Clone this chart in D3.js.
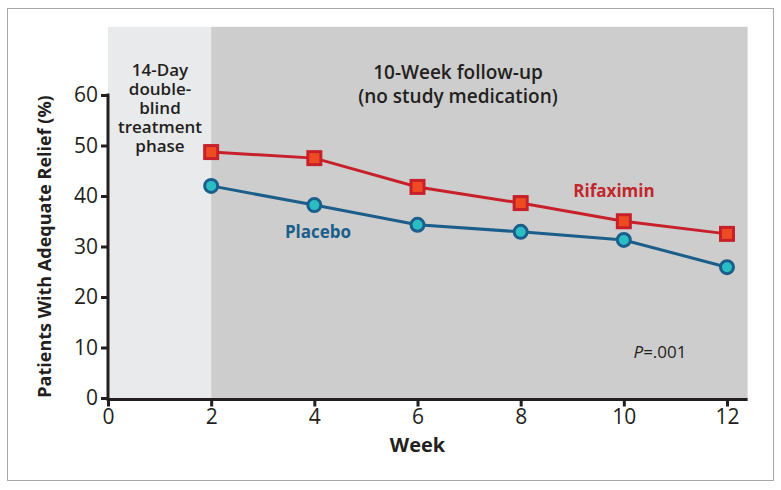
<!DOCTYPE html>
<html lang="en">
<head>
    <meta charset="UTF-8">
    <title>Adequate Relief</title>
    <style>
        body {
            margin: 0;
            padding: 0;
            background-color: #fff;
            font-family: "Open Sans", Arial, sans-serif;
        }
    </style>
</head>
<body>
    <div id="chart"></div>
    <script src="https://d3js.org/d3.v7.min.js"></script>
    <script>
        const width = 781;
        const height = 490;

        // data
        const weeks = [2, 4, 6, 8, 10, 12];
        const rifaximin = [48.7, 47.5, 41.8, 38.6, 35.0, 32.5];
        const placebo = [42.0, 38.2, 34.3, 32.9, 31.3, 25.9];
        const xTicks = [0, 2, 4, 6, 8, 10, 12];
        const yTicks = [0, 10, 20, 30, 40, 50, 60];

        const svg = d3.select("#chart")
            .append("svg")
            .attr("width", width)
            .attr("height", height);

        // outer frame
        svg.append("rect")
            .attr("x", 7.5).attr("y", 8.5)
            .attr("width", 766).attr("height", 472)
            .attr("fill", "none")
            .attr("stroke", "#a7a9ac")
            .attr("stroke-width", 1);

        const xScale = d3.scaleLinear().domain([0, 12]).range([108, 727]);
        const yScale = d3.scaleLinear().domain([0, 60]).range([398, 95]);

        // shaded phases
        svg.append("rect")
            .attr("x", xScale(0)).attr("y", yScale(73.5))
            .attr("width", xScale(2) - xScale(0))
            .attr("height", yScale(0) - yScale(73.5))
            .attr("fill", "#e9eaec");
        svg.append("rect")
            .attr("x", xScale(2)).attr("y", yScale(73.5))
            .attr("width", xScale(12.4) - xScale(2))
            .attr("height", yScale(0) - yScale(73.5))
            .attr("fill", "#cdcdcd");

        // axes
        const xAxis = d3.axisBottom(xScale).tickValues(xTicks).tickSize(7).tickPadding(3);
        const yAxis = d3.axisLeft(yScale).tickValues(yTicks).tickSize(7).tickPadding(3);

        const gx = svg.append("g")
            .attr("transform", `translate(0,${yScale(0) + 1.5})`)
            .call(xAxis);
        gx.select(".domain").remove();
        gx.append("line")
            .attr("x1", xScale(0) - 1.5).attr("x2", xScale(12.4))
            .attr("stroke", "#231f20").attr("stroke-width", 3);

        const gy = svg.append("g")
            .attr("transform", `translate(${xScale(0)},0)`)
            .call(yAxis);
        gy.select(".domain").remove();
        gy.append("line")
            .attr("y1", yScale(60) - 1.5).attr("y2", yScale(0) + 1.5)
            .attr("stroke", "#231f20").attr("stroke-width", 3);

        [gx, gy].forEach(g => {
            g.selectAll(".tick line").attr("stroke", "#231f20").attr("stroke-width", 3);
            g.selectAll(".tick text")
                .attr("fill", "#231f20")
                .style("font-family", "'Liberation Sans Narrow', 'Open Sans', sans-serif")
                .style("font-size", "21px");
        });

        // axis titles
        svg.append("text")
            .attr("x", xScale(6)).attr("y", 452)
            .attr("text-anchor", "middle")
            .attr("fill", "#231f20")
            .style("font-size", "20px").style("font-weight", 700)
            .text("Week");

        svg.append("text")
            .attr("transform", `translate(51,${yScale(30)}) rotate(-90)`)
            .attr("text-anchor", "middle")
            .attr("fill", "#231f20")
            .style("font-size", "18px").style("font-weight", 700)
            .text("Patients With Adequate Relief (%)");

        // phase labels
        const phaseLeft = ["14-Day", "double-", "blind", "treatment", "phase"];
        svg.append("text")
            .attr("text-anchor", "middle")
            .attr("fill", "#231f20")
            .style("font-size", "17px").style("font-weight", 600)
            .selectAll("tspan")
            .data(phaseLeft)
            .enter()
            .append("tspan")
            .attr("x", 160)
            .attr("y", (d, i) => 76 + i * 19)
            .text(d => d);

        const phaseRight = ["10-Week follow-up", "(no study medication)"];
        svg.append("text")
            .attr("text-anchor", "middle")
            .attr("fill", "#231f20")
            .style("font-size", "19px").style("font-weight", 600)
            .selectAll("tspan")
            .data(phaseRight)
            .enter()
            .append("tspan")
            .attr("x", 458)
            .attr("y", (d, i) => 79 + i * 24)
            .text(d => d);

        // lines
        const line = d3.line()
            .x(d => xScale(d[0]))
            .y(d => yScale(d[1]));

        const placeboData = weeks.map((w, i) => [w, placebo[i]]);
        const rifaData = weeks.map((w, i) => [w, rifaximin[i]]);

        svg.append("path")
            .datum(placeboData)
            .attr("d", line)
            .attr("fill", "none")
            .attr("stroke", "#1b5e8b")
            .attr("stroke-width", 3);

        svg.selectAll(".placebo-pt")
            .data(placeboData)
            .enter()
            .append("circle")
            .attr("class", "placebo-pt")
            .attr("cx", d => xScale(d[0]))
            .attr("cy", d => yScale(d[1]))
            .attr("r", 6.5)
            .attr("fill", "#2bbdc4")
            .attr("stroke", "#1b5e8b")
            .attr("stroke-width", 3);

        svg.append("path")
            .datum(rifaData)
            .attr("d", line)
            .attr("fill", "none")
            .attr("stroke", "#c8202a")
            .attr("stroke-width", 3);

        svg.selectAll(".rifa-pt")
            .data(rifaData)
            .enter()
            .append("rect")
            .attr("class", "rifa-pt")
            .attr("x", d => xScale(d[0]) - 6.5)
            .attr("y", d => yScale(d[1]) - 6.5)
            .attr("width", 13)
            .attr("height", 13)
            .attr("fill", "#ef4b23")
            .attr("stroke", "#c8202a")
            .attr("stroke-width", 3);

        // series labels
        svg.append("text")
            .attr("x", 614).attr("y", 197)
            .attr("text-anchor", "middle")
            .attr("fill", "#c1272d")
            .style("font-size", "17px").style("font-weight", 700)
            .text("Rifaximin");

        svg.append("text")
            .attr("x", 318).attr("y", 238)
            .attr("text-anchor", "middle")
            .attr("fill", "#1b5e8b")
            .style("font-size", "17px").style("font-weight", 700)
            .text("Placebo");

        const pText = svg.append("text")
            .attr("x", 660).attr("y", 358)
            .attr("text-anchor", "middle")
            .attr("fill", "#231f20")
            .style("font-size", "17px");
        pText.append("tspan").style("font-style", "italic").text("P");
        pText.append("tspan").text("=.001");
    </script>
</body>
</html>
